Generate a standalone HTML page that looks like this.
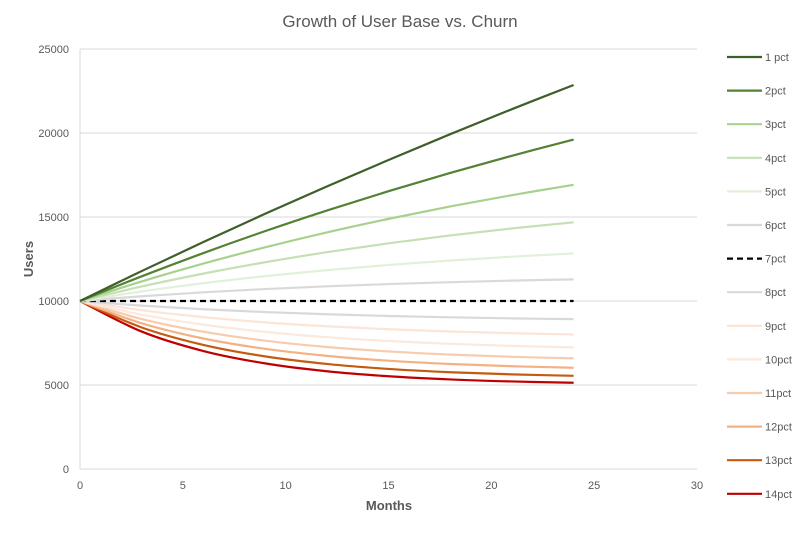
<!DOCTYPE html>
<html><head><meta charset="utf-8"><style>
body{margin:0;background:#fff;font-family:"Liberation Sans",sans-serif}
svg text{font-family:"Liberation Sans",sans-serif}
</style></head><body>
<svg id="chart" width="804" height="530">
<text x="400" y="27" text-anchor="middle" font-size="17" fill="#595959">Growth of User Base vs. Churn</text>
<g id="grid"></g><g id="axes"></g><g id="series"></g><g id="legend"></g>
<text x="33" y="259" transform="rotate(-90 33 259)" text-anchor="middle" font-size="13" font-weight="bold" fill="#595959">Users</text>
<text x="389" y="510" text-anchor="middle" font-size="13" font-weight="bold" fill="#595959">Months</text>
</svg>
<script>
const months=[0,3,6,9,12,15,18,21,24];
const seriesNames=["1 pct","2pct","3pct","4pct","5pct","6pct","7pct","8pct","9pct","10pct","11pct","12pct","13pct","14pct"];
const s1=[10000,11782,13510,15190,16816,18394,19930,21418,22858];
const s2=[10000,11470,12855,14158,15383,16535,17623,18645,19608];
const s3=[10000,11164,12227,13197,14083,14889,15627,16300,16915];
const s4=[10000,10865,11629,12306,12905,13434,13903,14318,14685];
const s5=[10000,10570,11060,11479,11838,12147,12411,12638,12832];
const s6=[10000,10282,10517,10712,10874,11008,11120,11212,11289];
const s7=[10000,10000,10000,10000,10000,10000,10000,10000,10000];
const s8=[10000,9723,9508,9340,9210,9108,9029,8967,8919];
const s9=[10000,9452,9040,8729,8495,8318,8185,8085,8009];
const s10=[10000,9187,8594,8162,7847,7618,7450,7328,7239];
const s11=[10000,8927,8171,7638,7262,6997,6810,6679,6586];
const s12=[10000,8673,7768,7152,6732,6446,6251,6118,6027];
const s13=[10000,8424,7386,6703,6253,5956,5761,5633,5548];
const s14=[10000,8180,7023,6287,5818,5521,5331,5211,5134];
const yTicks=[0,5000,10000,15000,20000,25000];
const xTicks=[0,5,10,15,20,25,30];
const allSeries=[s1,s2,s3,s4,s5,s6,s7,s8,s9,s10,s11,s12,s13,s14];
const colors=["#3f5f2a","#548235","#a9d18e","#c5e0b4","#e2f0d9","#d9d9d9","#000","#d9d9d9","#fbe5d6","#fce9dd","#f8cbad","#f4b183","#c55a11","#c00000"];
const NS="http://www.w3.org/2000/svg";
const X=v=>80+v*(617/30), Y=v=>469-v*(420/25000);
function mk(t,a,p){const e=document.createElementNS(NS,t);for(const k in a)e.setAttribute(k,a[k]);p.appendChild(e);return e;}
const grid=document.getElementById('grid'),axes=document.getElementById('axes'),ser=document.getElementById('series'),leg=document.getElementById('legend');
yTicks.forEach(v=>{
 if(v>0){const l=mk('line',{x1:80,x2:697,y1:Y(v),y2:Y(v),stroke:'#d9d9d9','stroke-width':1},grid);
 
 }
 const t=mk('text',{x:69,y:Y(v)+4,'text-anchor':'end','font-size':11,fill:'#595959'},axes);t.textContent=v;
 
 
});
xTicks.forEach(v=>{
 const t=mk('text',{x:X(v),y:489,'text-anchor':'middle','font-size':11,fill:'#595959'},axes);t.textContent=v;
 
 
});
const ya=mk('line',{x1:80,x2:80,y1:49,y2:469,stroke:'#d9d9d9'},axes);


const xa=mk('line',{x1:80,x2:697,y1:469,y2:469,stroke:'#d9d9d9'},axes);


function path(vals){const p=vals.map((v,i)=>[X(months[i]),Y(v)]);let d='M'+p[0][0]+','+p[0][1];
 for(let i=0;i<p.length-1;i++){const p0=p[i-1]||p[i],p1=p[i],p2=p[i+1],p3=p[i+2]||p2;
 d+=' C'+(p1[0]+(p2[0]-p0[0])/6)+','+(p1[1]+(p2[1]-p0[1])/6)+' '+(p2[0]-(p3[0]-p1[0])/6)+','+(p2[1]-(p3[1]-p1[1])/6)+' '+p2[0]+','+p2[1];}
 return d;}
for(let i=allSeries.length-1;i>=0;i--){
 const a={d:path(allSeries[i]),fill:'none',stroke:colors[i],'stroke-width':2.2};
 if(i===6)a['stroke-dasharray']='6,4';
 const e=mk('path',a,ser);
 
 
}
seriesNames.forEach((n,i)=>{
 const y=57+i*33.6;
 const g=mk('g',{},leg);
 
 
 const a={x1:727,x2:762,y1:y,y2:y,stroke:colors[i],'stroke-width':2.2};
 if(i===6)a['stroke-dasharray']='6,4';
 mk('line',a,g);
 const t=mk('text',{x:765,y:y+4,'font-size':11,fill:'#595959'},g);t.textContent=n;
});
</script>
</body></html>
